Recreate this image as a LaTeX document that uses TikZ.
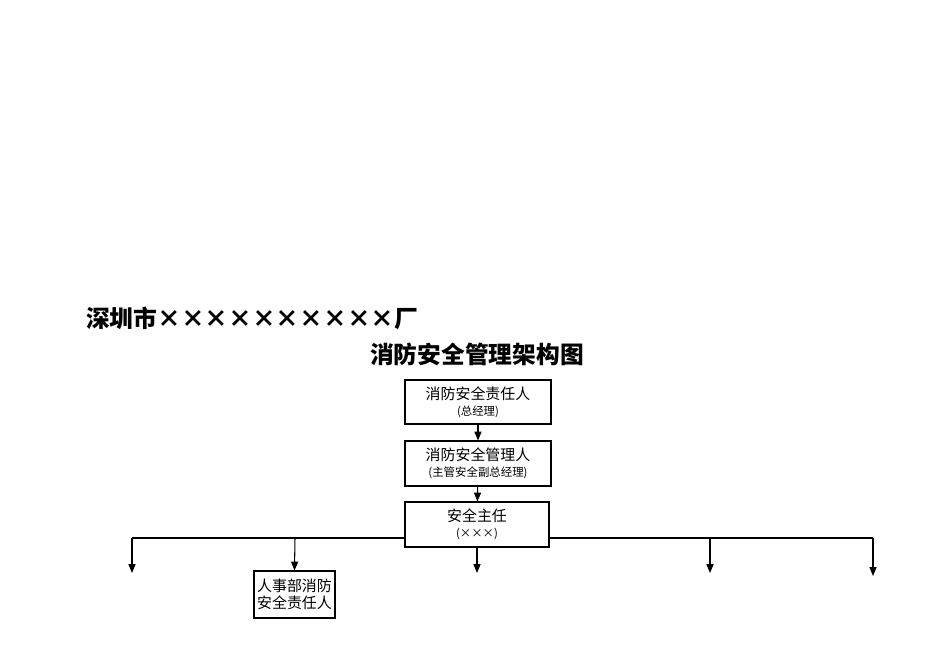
\documentclass[tikz,border=0pt]{standalone}
\usepackage{fontspec}
\newfontfamily\cjk{Noto Sans CJK SC}
\usetikzlibrary{arrows.meta}
\begin{document}
\begin{tikzpicture}[x=0.02cm,y=-0.02cm,
 box/.style={draw,line width=0.6pt,fill=white,font=\cjk\fontsize{8.5}{10}\selectfont,align=center,inner sep=0pt},
 arr/.style={-{Triangle[length=5pt,width=4pt]},line width=0.6pt},
 ln/.style={line width=0.6pt}]
\useasboundingbox (0,0) rectangle (950,672);
\node[anchor=west,font=\cjk\bfseries\fontsize{13.5}{15}\selectfont] (t1) at (80,318) {深圳市××××××××××厂};
\node[font=\cjk\bfseries\fontsize{13.5}{15}\selectfont] (t2) at (477,354) {消防安全管理架构图};
\coordinate (hl) at (132,538);
\coordinate (hr) at (873,538);
\draw[ln] (hl) -- (hr);
\node[box,minimum width=146*0.02cm,minimum height=44*0.02cm] (b1) at (478,402) {消防安全责任人\\[-1pt]{\fontsize{6.5}{7}\selectfont (总经理)}};
\node[box,minimum width=146*0.02cm,minimum height=45*0.02cm] (b2) at (478,463.5) {消防安全管理人\\[-1pt]{\fontsize{6.5}{7}\selectfont (主管安全副总经理)}};
\node[box,minimum width=144*0.02cm,minimum height=45*0.02cm] (b3) at (477,524.5) {安全主任\\[-1pt]{\fontsize{6.5}{7}\selectfont (×××)}};
\node[box,minimum width=81*0.02cm,minimum height=47*0.02cm] (b4) at (294.5,594.5) {人事部消防\\安全责任人};
\draw[arr] (b1) -- (b2);
\draw[arr] (b2) -- (b3);
\coordinate (d1) at (132,573);
\coordinate (d3) at (477,573);
\coordinate (d4) at (710,573);
\coordinate (d5) at (873,576);
\coordinate (s2) at (295,538);
\coordinate (s4) at (710,538);
\draw[arr] (hl) -- (d1);
\draw[arr] (s2) -- (b4.north);
\draw[arr] (b3.south) -- (d3);
\draw[arr] (s4) -- (d4);
\draw[arr] (hr) -- (d5);
\end{tikzpicture}
\end{document}
